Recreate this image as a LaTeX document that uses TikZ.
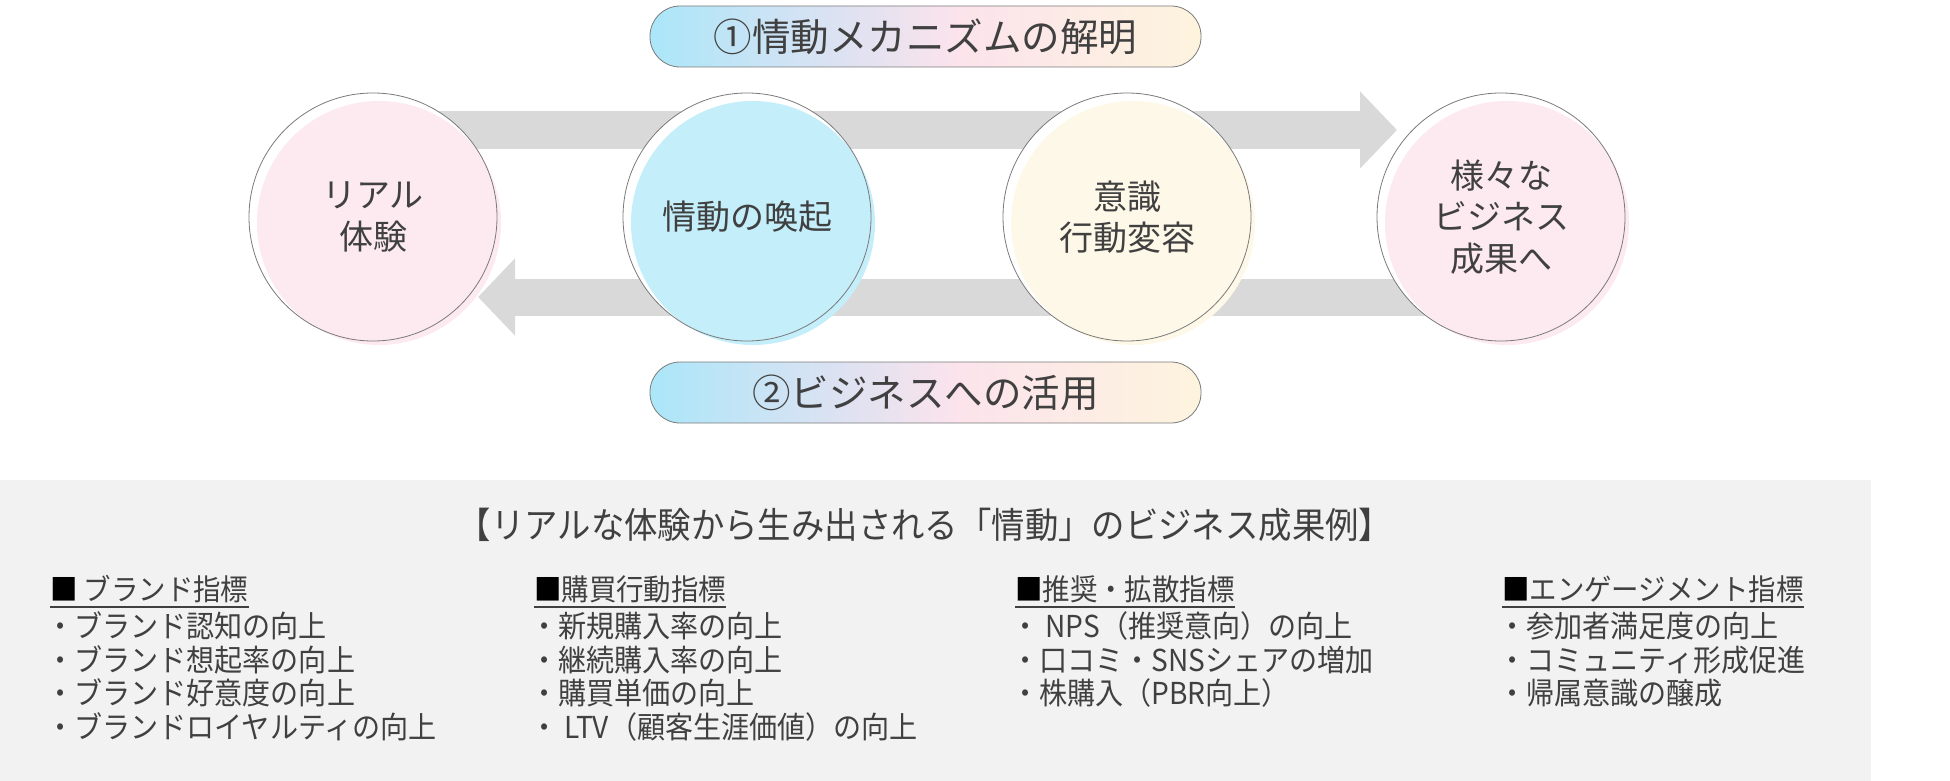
\documentclass[tikz,border=0pt]{standalone}
\usepackage{fontspec}
\setmainfont{Noto Sans CJK JP}
\newfontfamily\narrowjp[FakeStretch=0.93]{Noto Sans CJK JP}
\usetikzlibrary{arrows.meta, calc}
\definecolor{ink}{HTML}{404040}
\definecolor{rimgray}{HTML}{7A7A7A}
\definecolor{flowgray}{HTML}{D9D9D9}
\definecolor{panelgray}{HTML}{F2F2F2}
\definecolor{bubblepink}{HTML}{FDEAF1}
\definecolor{bubbleblue}{HTML}{C4EEFA}
\definecolor{bubblecream}{HTML}{FDF8E8}
\definecolor{pillA}{HTML}{ABE6F9}
\definecolor{pillB}{HTML}{DCE2F2}
\definecolor{pillC}{HTML}{FCE3EC}
\definecolor{pillD}{HTML}{FDF4DE}
\pgfdeclarehorizontalshading{pillshade}{100bp}{color(0bp)=(pillA); color(25bp)=(pillA); color(42bp)=(pillB); color(53bp)=(pillC); color(75bp)=(pillD); color(100bp)=(pillD)}

\begin{document}
\begin{tikzpicture}[x=1pt, y=-1pt,
    fatarrow/.style={draw=flowgray, line width=37pt, -{Triangle[length=37pt, width=75pt]}},
    bubble/.style={circle, draw=rimgray, line width=0.8pt, minimum size=248pt, inner sep=0pt,
      align=center, text=ink, font=\fontsize{34}{41.5}\selectfont},
    pill/.style={draw=rimgray, line width=0.8pt, rounded corners=30pt, shading=pillshade,
      minimum width=551pt, minimum height=61pt, text=ink, font=\fontsize{38.5}{44}\selectfont},
    colhead/.style={anchor=base west, inner sep=0pt, text=ink, font=\narrowjp\fontsize{29.5}{33.5}\selectfont},
    colitem/.style={colhead, font=\narrowjp\fontsize{30.2}{33.5}\selectfont},
    uline/.style={draw=ink, line width=1.4pt}]
    \useasboundingbox (0,0) rectangle (1950,781);

    % circle centres and flow arrows
    \foreach \n/\x in {c1/373, c2/747, c3/1127, c4/1501} \coordinate (\n) at (\x,217);
    \coordinate (topend) at (1397,130);
    \coordinate (botend) at (478,297);
    \draw[fatarrow] (c1 |- topend) -- (topend);
    \draw[fatarrow] (c4 |- botend) -- (botend);

    % circles
    \foreach \n/\col in {c1/bubblepink, c2/bubbleblue, c3/bubblecream, c4/bubblepink} {
        \fill[white] (\n) circle[radius=124pt];
        \fill[\col] ($(\n)+(6,6)$) circle[radius=122pt];
    }
    \node[bubble] (real) at (c1) {リアル\\体験};
    \node[bubble] (emotion) at (c2) {情動の喚起};
    \node[bubble] (change) at (c3) {意識\\行動変容};
    \node[bubble] (result) at (c4) {様々な\\ビジネス\\成果へ};

    \node[pill] (mechanism) at (925.5,36.5) {①情動メカニズムの解明};
    \node[pill] (usage) at (925.5,392.5) {②ビジネスへの活用};

    % result examples
    \fill[panelgray] (0,480) rectangle (1871,781);
    \node[text=ink, font=\narrowjp\fontsize{35.9}{40}\selectfont] (title) at (925,525)
        {【リアルな体験から生み出される「情動」のビジネス成果例】};

    \node[colhead] (hbrand) at (50,600.5) {{\color{black}■} ブランド指標};
    \draw[uline] ([yshift=-6.5pt]hbrand.base west) -- ([yshift=-6.5pt]hbrand.base east);
    \foreach \t [count=\i] in {・ブランド認知の向上, ・ブランド想起率の向上, ・ブランド好意度の向上, ・ブランドロイヤルティの向上}
        \node[colitem] (brand\i) at (46,604+33.5*\i) {\t};

    \node[colhead] (hbuy) at (534,600.5) {{\color{black}■}購買行動指標};
    \draw[uline] ([yshift=-6.5pt]hbuy.base west) -- ([yshift=-6.5pt]hbuy.base east);
    \foreach \t [count=\i] in {・新規購入率の向上, ・継続購入率の向上, ・購買単価の向上, ・ LTV（顧客生涯価値）の向上}
        \node[colitem] (buy\i) at (530,604+33.5*\i) {\t};

    \node[colhead] (hspread) at (1015,600.5) {{\color{black}■}推奨・拡散指標};
    \draw[uline] ([yshift=-6.5pt]hspread.base west) -- ([yshift=-6.5pt]hspread.base east);
    \foreach \t [count=\i] in {・ NPS（推奨意向）の向上, ・口コミ・SNSシェアの増加, ・株購入（PBR向上）}
        \node[colitem] (spread\i) at (1011,604+33.5*\i) {\t};

    \node[colhead] (hengage) at (1502,600.5) {{\color{black}■}エンゲージメント指標};
    \draw[uline] ([yshift=-6.5pt]hengage.base west) -- ([yshift=-6.5pt]hengage.base east);
    \foreach \t [count=\i] in {・参加者満足度の向上, ・コミュニティ形成促進, ・帰属意識の醸成}
        \node[colitem] (engage\i) at (1498,604+33.5*\i) {\t};
\end{tikzpicture}
\end{document}
